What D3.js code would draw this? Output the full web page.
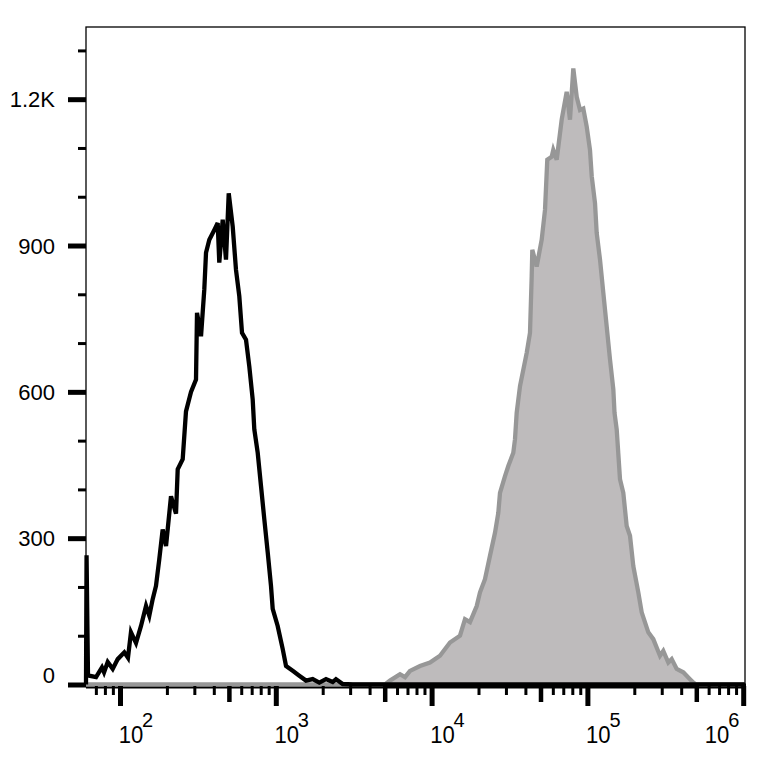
<!DOCTYPE html>
<html><head><meta charset="utf-8">
<script src="https://cdn.jsdelivr.net/npm/d3@7/dist/d3.min.js"></script>
<style>body{margin:0;background:#fff}svg{display:block}</style>
</head><body>
<svg id="chart" width="772" height="763"></svg>
<script>
// Isotype control histogram (black outline)
const isoX = [60.5,61,62.3,63.5,70.2,76.6,79,83.4,89.8,96.7,106.6,112.5,117.6,126.7,136.4,146.9,154.2,162.1,170.2,178.7,187.9,197.4,212.5,228.8,234.6,252.6,265.2,285.6,307.5,312.1,331.1,347.6,356.5,374.3,403,423.7,433.8,456.2,478.9,498.7,528.9,555.3,583.1,606.9,643.8,676,710.8,727.8,765.3,803.5,843.7,887.2,931.5,955.2,1028,1107,1163,1284,1415,1563,1725,1902,2100,2318,2434,2688,3116,1027000];
const isoY = [0,265,20,18,15,35,25,46,32,52,66,55,107,85,120,161,141,175,202,257,318,284,386,350,441,462,560,600,625,762,714,810,885,912,932,946,865,953,871,1007,939,850,796,721,707,652,584,523,475,407,339,271,202,155,120,73,38,28,18,8,11,4,11,5,11,1,0,0];
// Stained sample histogram (grey filled)
const stainX = [60.5,5022,5408,6269,6751,7267,8424,9765,11320,13124,15214,16384,17640,19479,20450,22010,23700,25520,26800,27480,29590,31070,33450,34300,35170,36940,40780,42810,43900,44300,47270,50890,53440,55280,59000,60400,63520,68390,73640,77310,81200,85380,89670,94120,98970,103900,106600,111900,114700,120500,126500,133000,139700,146700,149300,154200,161900,170000,178700,187700,197000,212200,223100,246000,264800,292400,307000,330600,347600,374300,412600,455500,478300,497700,1027000];
const stainY = [0,0,8,21,15,28,38,45,59,86,100,134,128,161,189,216,264,311,352,393,427,448,475,503,557,612,680,721,837,891,857,912,973,1076,1082,1096,1076,1158,1215,1158,1263,1205,1178,1181,1144,1096,1042,987,926,871,803,734,666,605,557,523,421,393,325,305,243,189,148,107,93,59,69,45,52,32,25,11,4,0,0];

const yMajor = [0,300,600,900,1200];
const yMajorLabels = ["0","300","600","900","1.2K"];
const yMinor = [100,200,400,500,700,800,1000,1100,1300];
const xMajor = [1e2,1e3,1e4,1e5,1e6];
const xExp = ["2","3","4","5","6"];
const xDomain = [60.5, 1.027e6];
const yDomain = [0, 1348];

const svg = d3.select("#chart");
svg.append("rect").attr("width",772).attr("height",763).attr("fill","#fff");

const L = 86, R = 745, T = 27, B = 684.5;
const x = d3.scaleLog().domain(xDomain).range([L, R]);
const y = d3.scaleLinear().domain(yDomain).range([B, T]);

// minor/medium x ticks
const xMinor = [], xMed = [];
for (let e = 1; e <= 5; e++) {
  for (let m = 2; m <= 9; m++) {
    const v = m * Math.pow(10, e);
    if (v < xDomain[0] || v > xDomain[1]) continue;
    (m === 5 ? xMed : xMinor).push(v);
  }
}

// plot frame
svg.append("rect").attr("x",L).attr("y",T).attr("width",R-L).attr("height",B-T+2)
  .attr("fill","none").attr("stroke","#000").attr("stroke-width",1.3);
// thick bottom axis line
svg.append("line").attr("x1",L).attr("x2",R+1).attr("y1",686).attr("y2",686)
  .attr("stroke","#000").attr("stroke-width",5);

// grey stained histogram
const stainData = stainX.map((v,i)=>[v, stainY[i]]);
svg.append("path").datum(stainData)
  .attr("d", d3.area().x(d=>x(d[0])).y0(y(0)).y1(d=>y(d[1])))
  .attr("fill","#bebbbc");
svg.append("path").datum(stainData)
  .attr("d", d3.line().x(d=>x(d[0])).y(d=>y(d[1])))
  .attr("fill","none").attr("stroke","#979797").attr("stroke-width",4.3)
  .attr("stroke-linejoin","miter");

// black isotype histogram
const isoData = isoX.map((v,i)=>[v, isoY[i]]);
svg.append("path").datum(isoData)
  .attr("d", d3.line().x(d=>x(d[0])).y(d=>y(d[1])))
  .attr("fill","none").attr("stroke","#000").attr("stroke-width",4.3)
  .attr("stroke-linejoin","miter");

// Y axis ticks
function styleAxis(g, w){
  g.select(".domain").remove();
  g.selectAll(".tick line").attr("stroke","#000").attr("stroke-width",w);
  g.selectAll(".tick text").remove();
}
svg.append("g").attr("transform",`translate(${L},0)`)
  .call(d3.axisLeft(y).tickValues(yMajor).tickSize(18).tickFormat(""))
  .call(g=>styleAxis(g,5));
svg.append("g").attr("transform",`translate(${L},0)`)
  .call(d3.axisLeft(y).tickValues(yMinor).tickSize(8).tickFormat(""))
  .call(g=>styleAxis(g,3));
svg.append("g").selectAll("text").data(yMajor).join("text")
  .attr("x",55).attr("y",(d)=> d===0 ? y(d)-1.5 : y(d)+8)
  .attr("text-anchor","end")
  .attr("font-family","'Liberation Sans', Arial, sans-serif")
  .attr("font-size",22).attr("fill","#000")
  .text((d,i)=>yMajorLabels[i]);

// X axis ticks
svg.append("g").attr("transform","translate(0,686)")
  .call(d3.axisBottom(x).tickValues(xMajor).tickSize(20).tickFormat(""))
  .call(g=>styleAxis(g,5));
svg.append("g").attr("transform","translate(0,686)")
  .call(d3.axisBottom(x).tickValues(xMed).tickSize(16).tickFormat(""))
  .call(g=>styleAxis(g,4.5));
svg.append("g").attr("transform","translate(0,686)")
  .call(d3.axisBottom(x).tickValues(xMinor).tickSize(9).tickFormat(""))
  .call(g=>styleAxis(g,3));

const xl = svg.append("g").selectAll("g").data(xMajor).join("g")
  .attr("transform",(d,i)=>`translate(${x(d) + (i===xMajor.length-1 ? -37 : 0)},0)`);
xl.append("text")
  .attr("x",-1.5).attr("y",743)
  .attr("font-family","'Liberation Sans', Arial, sans-serif")
  .attr("font-size",24).attr("fill","#000")
  .attr("transform","translate(0,743) scale(0.92,1) translate(0,-743)")
  .text("10");
xl.append("text")
  .attr("x",22).attr("y",727)
  .attr("font-family","'Liberation Sans', Arial, sans-serif")
  .attr("font-size",20).attr("fill","#000")
  .text((d,i)=>xExp[i]);
</script>
</body></html>
